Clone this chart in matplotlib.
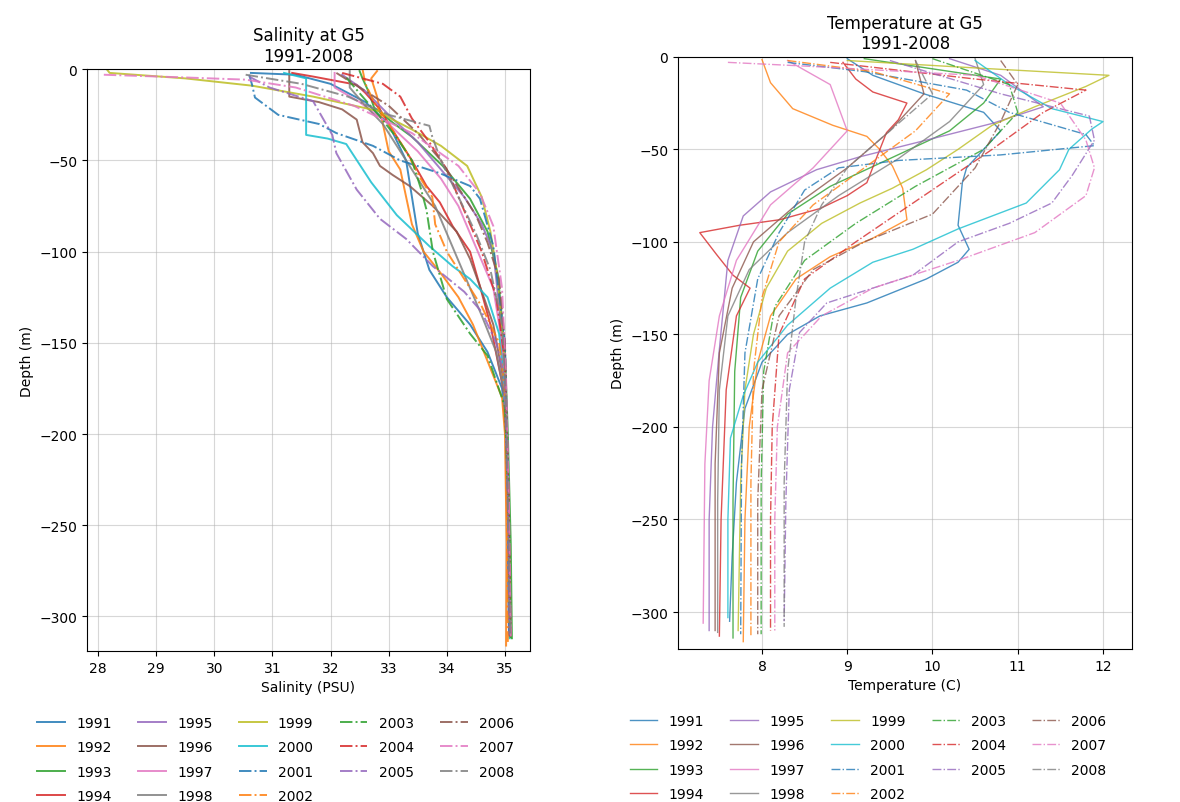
import matplotlib
matplotlib.use("Agg")
import matplotlib.pyplot as plt

# perfiles de salinidad (profundidad m, PSU) en G5
sal_1991 = [(-2, 30.63), (-3, 31.4), (-8, 32.0), (-18, 32.6), (-30, 33.0), (-50, 33.3), (-70, 33.4), (-90, 33.5), (-110, 33.7), (-125, 34.0), (-140, 34.4), (-155, 34.7), (-175, 34.95), (-200, 35.02), (-250, 35.05), (-310, 35.07)]
sal_1992 = [(-1, 32.8), (-5, 32.7), (-15, 32.8), (-30, 32.9), (-45, 33.0), (-55, 33.2), (-70, 33.3), (-85, 33.4), (-100, 33.6), (-112, 33.9), (-125, 34.2), (-140, 34.45), (-160, 34.7), (-180, 34.95), (-200, 35.0), (-260, 35.03), (-316, 35.02)]
sal_1993 = [(-1, 32.5), (-5, 32.55), (-12, 32.65), (-21, 32.75), (-30, 33.1), (-37, 33.4), (-53, 33.93), (-71, 34.4), (-89, 34.7), (-113, 34.88), (-155, 35.0), (-200, 35.05), (-260, 35.1), (-312, 35.12)]
sal_1994 = [(-2, 31.34), (-4, 31.7), (-8.5, 32.45), (-13, 32.6), (-22, 32.85), (-35, 33.1), (-50, 33.4), (-64, 33.65), (-73, 33.88), (-86, 34.1), (-100, 34.4), (-119, 34.57), (-140, 34.75), (-180, 35.0), (-240, 35.06), (-310, 35.08)]
sal_1995 = [(-3, 32.2), (-12, 32.6), (-25, 33.0), (-40, 33.5), (-55, 33.9), (-70, 34.3), (-85, 34.6), (-100, 34.8), (-130, 34.9), (-170, 35.0), (-230, 35.05), (-309, 35.08)]
sal_1996 = [(-1, 31.29), (-15, 31.29), (-18, 31.8), (-22, 32.2), (-27.6, 32.45), (-40, 32.55), (-46, 32.73), (-53, 32.85), (-58, 33.07), (-64, 33.36), (-75, 33.76), (-89, 34.17), (-104, 34.4), (-119, 34.57), (-140, 34.8), (-175, 35.0), (-240, 35.06), (-311, 35.08)]
sal_1997 = [(-2, 32.07), (-10, 32.07), (-18, 32.5), (-30, 33.0), (-45, 33.5), (-60, 33.9), (-75, 34.2), (-90, 34.4), (-105, 34.6), (-120, 34.8), (-150, 34.95), (-190, 35.02), (-250, 35.06), (-310, 35.1)]
sal_1998 = [(-1, 32.33), (-10, 32.33), (-20, 32.6), (-30, 32.9), (-45, 33.2), (-60, 33.5), (-75, 33.8), (-90, 34.0), (-105, 34.2), (-120, 34.4), (-135, 34.6), (-155, 34.85), (-180, 35.0), (-240, 35.05), (-310, 35.07)]
sal_1999 = [(0, 28.15), (-2, 28.2), (-5, 29.5), (-9, 30.65), (-15, 31.7), (-23, 32.84), (-27.6, 33.07), (-33, 33.4), (-42, 33.9), (-53, 34.35), (-70, 34.6), (-89, 34.75), (-113, 34.87), (-160, 35.0), (-220, 35.05), (-309, 35.09)]
sal_2000 = [(-2, 31.2), (-5, 31.58), (-36, 31.58), (-38, 31.95), (-41, 32.27), (-62, 32.7), (-80, 33.14), (-97, 33.7), (-108, 34.1), (-115, 34.4), (-125, 34.7), (-145, 34.9), (-175, 35.0), (-220, 35.05), (-312, 35.08)]
sal_2001 = [(-3, 30.6), (-8.5, 30.65), (-15.5, 30.7), (-25, 31.1), (-30, 31.8), (-35, 32.1), (-42, 32.73), (-50, 33.2), (-57, 33.88), (-64, 34.4), (-71, 34.57), (-97, 34.8), (-150, 35.0), (-220, 35.05), (-310, 35.07)]
sal_2002 = [(0, 32.55), (-8, 32.6), (-18, 32.75), (-30, 33.0), (-45, 33.3), (-60, 33.55), (-70, 33.75), (-85, 33.8), (-100, 34.0), (-115, 34.3), (-130, 34.6), (-150, 34.9), (-175, 35.0), (-240, 35.04), (-314, 35.05)]
sal_2003 = [(-4.6, 32.27), (-15, 32.55), (-26, 32.85), (-38, 33.15), (-50, 33.4), (-65, 33.55), (-77, 33.65), (-100, 33.76), (-126, 34.0), (-145, 34.4), (-157, 34.7), (-185, 35.0), (-250, 35.07), (-312, 35.1)]
sal_2004 = [(-2, 32.2), (-8, 32.9), (-15, 33.2), (-27, 33.4), (-40, 33.7), (-55, 34.0), (-70, 34.2), (-85, 34.4), (-100, 34.6), (-125, 34.85), (-160, 35.0), (-230, 35.06), (-311, 35.09)]
sal_2005 = [(-4, 30.6), (-10, 30.95), (-17.5, 31.7), (-36, 32.03), (-46, 32.1), (-66, 32.45), (-82, 32.85), (-93, 33.3), (-108, 33.76), (-122, 34.3), (-133, 34.6), (-150, 34.85), (-170, 35.0), (-240, 35.05), (-310, 35.08)]
sal_2006 = [(-2, 32.1), (-8, 32.4), (-20, 33.0), (-35, 33.5), (-50, 33.9), (-65, 34.2), (-80, 34.5), (-95, 34.7), (-115, 34.9), (-150, 35.0), (-230, 35.06), (-310, 35.1)]
sal_2007 = [(-3, 28.1), (-4.5, 29.5), (-5.7, 30.54), (-10, 31.4), (-20, 32.4), (-35, 33.4), (-53, 34.2), (-68, 34.57), (-86, 34.8), (-120, 34.95), (-170, 35.02), (-240, 35.07), (-311, 35.1)]
sal_2008 = [(-3, 30.54), (-8, 31.5), (-15, 32.3), (-25, 33.0), (-31, 33.7), (-37, 33.75), (-50, 33.9), (-70, 34.2), (-90, 34.5), (-110, 34.75), (-140, 34.95), (-180, 35.02), (-250, 35.06), (-310, 35.09)]

# perfiles de temperatura (profundidad m, C)
tem_1991 = [(-1, 9.0), (-10, 9.3), (-20, 9.9), (-30, 10.6), (-40, 10.8), (-50, 10.6), (-60, 10.4), (-68, 10.35), (-91, 10.3), (-104, 10.43), (-111, 10.3), (-120, 9.93), (-133, 9.23), (-140, 8.68), (-150, 8.3), (-165, 8.0), (-190, 7.8), (-230, 7.7), (-270, 7.65), (-305, 7.62)]
tem_1992 = [(-1.5, 8.0), (-14, 8.1), (-28, 8.36), (-37, 8.83), (-43, 9.23), (-50, 9.38), (-59, 9.53), (-71, 9.65), (-88, 9.7), (-98, 9.3), (-108, 8.8), (-120, 8.4), (-140, 8.1), (-165, 7.95), (-200, 7.85), (-250, 7.8), (-316, 7.78)]
tem_1993 = [(-1, 9.2), (-12, 10.8), (-25, 10.6), (-40, 10.2), (-55, 9.5), (-70, 8.8), (-85, 8.3), (-105, 7.95), (-130, 7.75), (-170, 7.68), (-240, 7.66), (-314, 7.66)]
tem_1994 = [(-3, 8.95), (-12, 9.1), (-19, 9.3), (-25, 9.7), (-34, 9.6), (-41, 9.46), (-55, 9.34), (-68, 9.23), (-75, 9.0), (-82, 8.68), (-88, 8.21), (-91, 7.74), (-95, 7.27), (-107, 7.47), (-118, 7.66), (-125, 7.86), (-140, 7.7), (-180, 7.58), (-250, 7.52), (-313, 7.5)]
tem_1995 = [(-1, 10.2), (-10, 10.8), (-27, 11.3), (-36, 10.7), (-45, 9.93), (-54, 9.15), (-61, 8.64), (-73, 8.1), (-86, 7.78), (-110, 7.6), (-158, 7.5), (-200, 7.42), (-250, 7.38), (-310, 7.38)]
tem_1996 = [(-2, 9.8), (-20, 9.9), (-40, 9.5), (-60, 9.0), (-80, 8.4), (-100, 7.9), (-125, 7.65), (-160, 7.5), (-220, 7.45), (-310, 7.45)]
tem_1997 = [(-2, 8.3), (-15, 8.8), (-40, 9.0), (-60, 8.6), (-80, 8.1), (-110, 7.7), (-140, 7.5), (-175, 7.38), (-220, 7.33), (-306, 7.31)]
tem_1998 = [(-1, 10.5), (-15, 10.6), (-35, 10.2), (-55, 9.6), (-75, 8.9), (-95, 8.3), (-115, 7.85), (-140, 7.6), (-180, 7.5), (-240, 7.48), (-311, 7.48)]
tem_1999 = [(-2, 9.0), (-6, 10.5), (-10, 12.07), (-16, 11.8), (-27, 11.2), (-37, 10.7), (-50, 10.3), (-61, 9.93), (-71, 9.53), (-79, 9.15), (-90, 8.7), (-105, 8.3), (-125, 8.05), (-150, 7.9), (-180, 7.8), (-230, 7.75), (-310, 7.72)]
tem_2000 = [(-2, 10.5), (-15, 10.9), (-28, 11.4), (-35, 12.0), (-39, 11.87), (-50, 11.6), (-61, 11.49), (-79, 11.1), (-86, 10.7), (-93, 10.3), (-104, 9.77), (-111, 9.3), (-125, 8.8), (-145, 8.3), (-165, 7.95), (-183, 7.78), (-206, 7.63), (-250, 7.6), (-303, 7.6)]
tem_2001 = [(-3, 8.3), (-8, 9.2), (-18, 10.4), (-30, 10.9), (-42, 11.8), (-48, 11.9), (-53, 10.8), (-56, 9.6), (-60, 8.9), (-72, 8.5), (-95, 8.2), (-120, 7.95), (-160, 7.8), (-220, 7.76), (-312, 7.75)]
tem_2002 = [(-2, 8.3), (-8, 9.3), (-20, 10.2), (-40, 9.8), (-60, 9.2), (-80, 8.6), (-100, 8.2), (-130, 8.0), (-170, 7.9), (-230, 7.87), (-313, 7.87)]
tem_2003 = [(-1, 10.0), (-15, 10.9), (-30, 11.0), (-50, 10.6), (-70, 9.8), (-90, 9.1), (-110, 8.5), (-135, 8.15), (-170, 8.02), (-230, 7.99), (-312, 7.99)]
tem_2004 = [(-3, 8.8), (-12, 10.5), (-18, 11.8), (-30, 11.3), (-50, 10.7), (-75, 9.9), (-100, 9.1), (-120, 8.5), (-150, 8.2), (-200, 8.12), (-250, 8.1), (-310, 8.1)]
tem_2005 = [(-2, 9.5), (-20, 10.8), (-32, 11.84), (-45, 11.9), (-64, 11.64), (-79, 11.4), (-90, 10.9), (-100, 10.3), (-118, 9.77), (-133, 8.76), (-149, 8.44), (-180, 8.32), (-240, 8.28), (-305, 8.26)]
tem_2006 = [(-2, 10.8), (-15, 11.0), (-35, 10.8), (-60, 10.5), (-85, 10.0), (-100, 9.2), (-115, 8.6), (-140, 8.2), (-180, 8.0), (-240, 7.95), (-312, 7.95)]
tem_2007 = [(-3, 7.6), (-5, 8.5), (-10, 10.5), (-25, 11.5), (-45, 11.8), (-60, 11.9), (-75, 11.8), (-95, 11.2), (-110, 10.3), (-125, 9.3), (-140, 8.7), (-160, 8.3), (-200, 8.18), (-250, 8.15), (-310, 8.15)]
tem_2008 = [(-2, 9.8), (-20, 10.0), (-40, 9.5), (-60, 9.0), (-80, 8.7), (-100, 8.5), (-130, 8.4), (-170, 8.3), (-230, 8.26), (-308, 8.26)]

years = list(range(1991, 2009))
salinidad = [sal_1991, sal_1992, sal_1993, sal_1994, sal_1995, sal_1996, sal_1997, sal_1998, sal_1999,
             sal_2000, sal_2001, sal_2002, sal_2003, sal_2004, sal_2005, sal_2006, sal_2007, sal_2008]
temperatura = [tem_1991, tem_1992, tem_1993, tem_1994, tem_1995, tem_1996, tem_1997, tem_1998, tem_1999,
               tem_2000, tem_2001, tem_2002, tem_2003, tem_2004, tem_2005, tem_2006, tem_2007, tem_2008]

fig = plt.figure(figsize=(11.8, 8.03), dpi=100)
ax1 = fig.add_axes([0.0737, 0.188, 0.3754, 0.7245])
ax2 = fig.add_axes([0.5746, 0.1905, 0.3847, 0.7375])

for i, yr in enumerate(years):
    estilo = '-' if i < 10 else '-.'
    color = 'C{}'.format(i % 10 if i < 10 else i - 10)
    z = [p[0] for p in salinidad[i]]
    s = [p[1] for p in salinidad[i]]
    ax1.plot(s, z, linestyle=estilo, color=color, linewidth=1.4, alpha=0.85, label=str(yr))
    z = [p[0] for p in temperatura[i]]
    t = [p[1] for p in temperatura[i]]
    ax2.plot(t, z, linestyle=estilo, color=color, linewidth=1.0, alpha=0.8, label=str(yr))

ax1.set_xlim(27.81, 35.43)
ax1.set_ylim(-319, 0)
ax1.set_title('Salinity at G5\n1991-2008')
ax1.set_xlabel('Salinity (PSU)')
ax1.set_ylabel('Depth (m)')
ax1.grid(True, alpha=0.5)

ax2.set_xlim(7.015, 12.34)
ax2.set_ylim(-320, 0)
ax2.set_title('Temperature at G5\n1991-2008')
ax2.set_xlabel('Temperature (C)')
ax2.set_ylabel('Depth (m)')
ax2.grid(True, alpha=0.5)

ax1.legend(loc='upper left', bbox_to_anchor=(0.021, 0.123), bbox_transform=fig.transFigure,
           ncol=5, frameon=False, labelspacing=0.75, columnspacing=1.9)
ax2.legend(loc='upper left', bbox_to_anchor=(0.523, 0.1255), bbox_transform=fig.transFigure,
           ncol=5, frameon=False, labelspacing=0.75, columnspacing=1.9)

plt.savefig('out.png', dpi=100)
